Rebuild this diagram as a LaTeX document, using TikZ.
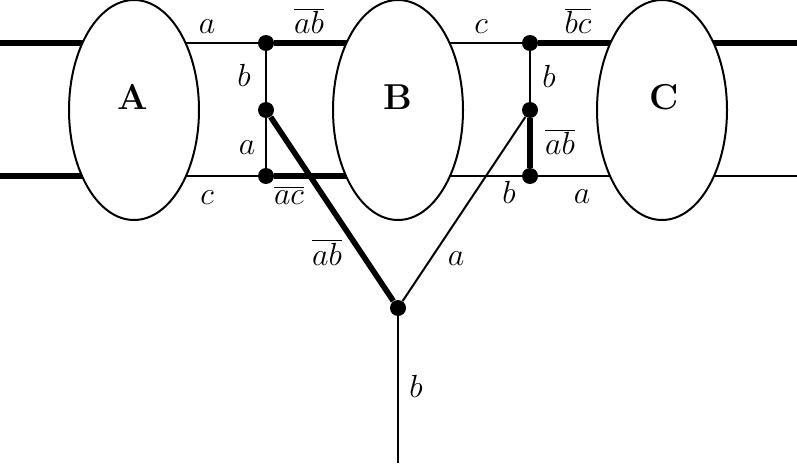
\RequirePackage{fix-cm}
\documentclass[tikz,border=0pt]{standalone}
\usetikzlibrary{shapes.geometric,backgrounds}
\begin{document}
\begin{tikzpicture}[x=0.5pt,y=-0.5pt,
  thinl/.style={line width=1pt},
  thickl/.style={line width=2.8pt},
  blob/.style={ellipse,draw,line width=1pt,fill=white,minimum width=65pt,minimum height=110pt,inner sep=0pt},
  jdot/.style={circle,fill,inner sep=0pt,minimum size=8pt},
  lab/.style={anchor=base,inner sep=0pt,font=\fontsize{16}{19}\selectfont},
  big/.style={anchor=base,inner sep=0pt,font=\fontsize{18}{22}\selectfont\bfseries}]
\useasboundingbox (0,0) rectangle (797,465);
% ellipses
\node[blob] (A) at (134,110) {};
\node[blob] (B) at (398,110) {};
\node[blob] (C) at (662,110) {};
\node[big] (tA) at (133,110) {A};
\node[big] (tB) at (398,110) {B};
\node[big] (tC) at (664,110) {C};
% junctions
\node[jdot] (j1) at (266,43) {};
\node[jdot] (j2) at (266,110) {};
\node[jdot] (j3) at (266,176) {};
\node[jdot] (k1) at (530,43) {};
\node[jdot] (k2) at (530,110) {};
\node[jdot] (k3) at (530,176) {};
\node[jdot] (m) at (398,308) {};
\coordinate (lA1) at (0,43);
\coordinate (lA3) at (0,176);
\coordinate (rC1) at (797,43);
\coordinate (rC3) at (797,176);
\coordinate (bot) at (398,463);
\begin{scope}[on background layer]
  % top line
  \draw[thickl] (lA1) -- (A.center |- j1);
  \draw[thinl] (A.center |- j1) -- (j1);
  \draw[thickl] (j1) -- (B.center |- j1);
  \draw[thinl] (B.center |- k1) -- (k1);
  \draw[thickl] (k1) -- (C.center |- k1);
  \draw[thickl] (C.center |- k1) -- (rC1);
  % bottom line
  \draw[thickl] (lA3) -- (A.center |- j3);
  \draw[thinl] (A.center |- j3) -- (j3);
  \draw[thickl] (j3) -- (B.center |- j3);
  \draw[thinl] (B.center |- k3) -- (k3);
  \draw[thinl] (k3) -- (rC3);
\end{scope}
% verticals
\draw[thinl] (j1) -- (j2);
\draw[thinl] (j2) -- (j3);
\draw[thinl] (k1) -- (k2);
\draw[thickl] (k2) -- (k3);
% diagonals
\draw[thickl] (j2) -- (m);
\draw[thinl] (k2) -- (m);
\draw[thinl] (m) -- (bot);
% labels
\node[lab] (l1) at (207,34) {$a$};
\node[lab] (l2) at (309,34) {$\overline{ab}$};
\node[lab] (l3) at (244,87) {$b$};
\node[lab] (l4) at (247,155) {$a$};
\node[lab] (l5) at (207,204) {$c$};
\node[lab] (l6) at (289,204) {$\overline{ac}$};
\node[lab] (l7) at (481,34) {$c$};
\node[lab] (l8) at (578,34) {$\overline{bc}$};
\node[lab] (l9) at (549,88) {$b$};
\node[lab] (l10) at (560,155) {$\overline{ab}$};
\node[lab] (l11) at (509,203) {$b$};
\node[lab] (l12) at (582,203) {$a$};
\node[lab] (l13) at (327,265) {$\overline{ab}$};
\node[lab] (l14) at (456,265) {$a$};
\node[lab] (l15) at (416,397) {$b$};
\end{tikzpicture}
\end{document}
